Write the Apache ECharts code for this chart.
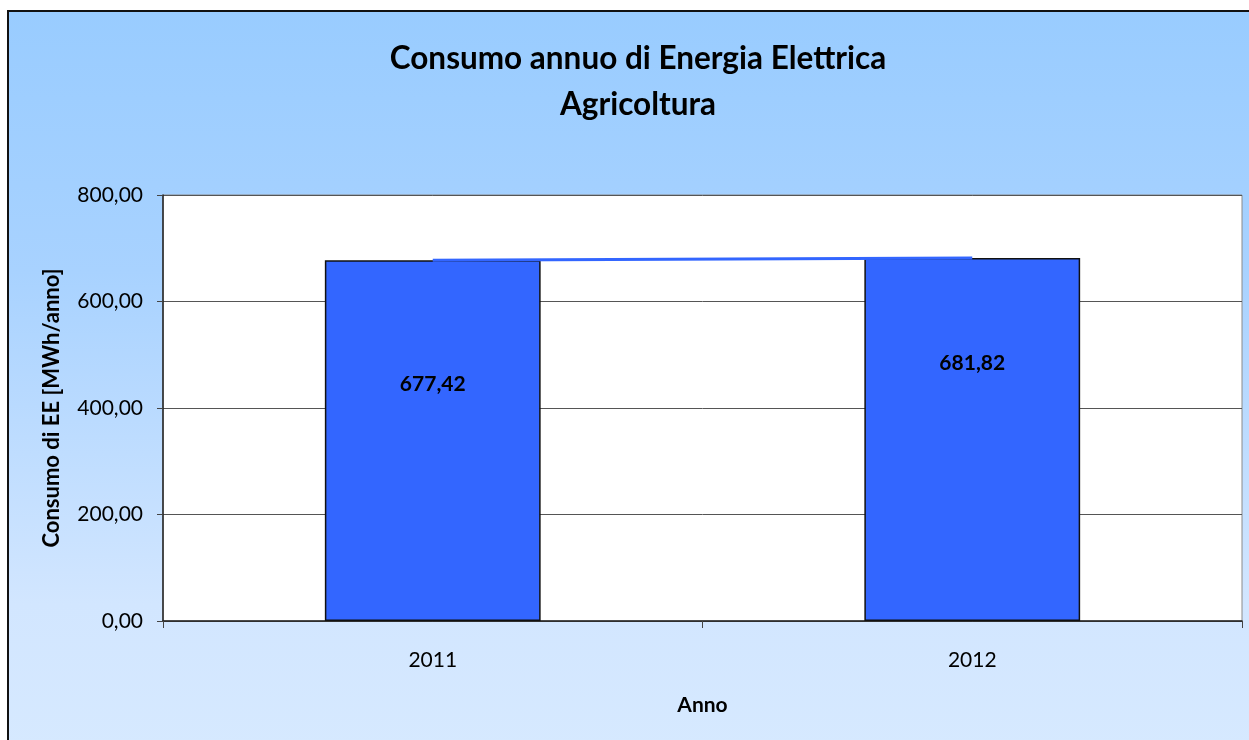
<!DOCTYPE html>
<html>
<head>
<meta charset="utf-8">
<script src="https://cdn.jsdelivr.net/npm/echarts@6/dist/echarts.min.js"></script>
<style>
  html, body { margin: 0; padding: 0; background: #ffffff; }
  #frame {
    position: absolute; left: 7px; top: 10px; width: 1250px; height: 740px;
    border-left: 2px solid #111; border-top: 2px solid #111;
    background: linear-gradient(to bottom, #99ccff 0%, #a8d2ff 35%, #d2e6ff 80%, #d6e9ff 100%);
  }
  #chart { position: absolute; left: 0; top: 0; width: 1249px; height: 740px; }
</style>
</head>
<body>
<div id="frame"></div>
<div id="chart"></div>
<script>
// Annual electricity consumption, agriculture sector
const years = ['2011', '2012'];
const consumption = [677.42, 681.82];
const yTicks = [0, 200, 400, 600, 800];

const FONT = 'Lato';
const BLUE = '#3366ff';

function itCommaFmt(v) {
  return v.toFixed(2).replace('.', ',');
}

// vertical placement of the value labels inside each bar
const labelDist = [113, 95];

const chart = echarts.init(document.getElementById('chart'), null, { renderer: 'canvas' });
chart.setOption({
  backgroundColor: 'transparent',
  animation: false,
  title: {
    text: 'Consumo annuo di Energia Elettrica\nAgricoltura',
    left: 633,
    textAlign: 'center',
    top: 31,
    textStyle: { fontFamily: FONT, fontWeight: 'bold', fontSize: 31.5, color: '#000', lineHeight: 46 }
  },
  grid: {
    left: 163, top: 195, right: 7, bottom: 119,
    show: true, backgroundColor: '#ffffff', borderColor: '#8a8a8a', borderWidth: 1
  },
  xAxis: {
    type: 'category',
    data: years,
    boundaryGap: true,
    name: 'Anno',
    nameLocation: 'middle',
    nameGap: 74,
    nameTextStyle: { fontFamily: FONT, fontWeight: 'bold', fontSize: 21, color: '#000' },
    axisLine: { lineStyle: { color: '#222', width: 1.5 } },
    axisTick: { show: true, alignWithLabel: false, length: 7, lineStyle: { color: '#444' } },
    axisLabel: { fontFamily: FONT, fontSize: 21, color: '#000', margin: 29 },
    splitLine: { show: false }
  },
  yAxis: {
    type: 'value',
    min: yTicks[0],
    max: yTicks[yTicks.length - 1],
    interval: yTicks[1] - yTicks[0],
    name: 'Consumo di EE [MWh/anno]',
    nameLocation: 'middle',
    nameGap: 100,
    nameTextStyle: { fontFamily: FONT, fontWeight: 'bold', fontSize: 22, color: '#000' },
    axisLine: { show: true, lineStyle: { color: '#222', width: 1.5 } },
    axisTick: { show: true, length: 6, lineStyle: { color: '#444' } },
    axisLabel: { fontFamily: FONT, fontSize: 21, color: '#000', margin: 20, formatter: itCommaFmt },
    splitLine: { show: true, lineStyle: { color: '#555', width: 1 } }
  },
  series: [
    {
      type: 'bar',
      data: consumption.map((v, i) => ({
        value: v,
        label: { position: 'insideTop', distance: labelDist[i] }
      })),
      barWidth: '40%',
      itemStyle: { color: BLUE, borderColor: '#111', borderWidth: 1.5 },
      label: {
        show: true,
        fontFamily: FONT, fontWeight: 'bold', fontSize: 21, color: '#000',
        formatter: p => itCommaFmt(p.value)
      },
      z: 2
    },
    {
      type: 'line',
      data: consumption,
      symbol: 'none',
      lineStyle: { color: BLUE, width: 3 },
      z: 3
    }
  ]
});
</script>
</body>
</html>
